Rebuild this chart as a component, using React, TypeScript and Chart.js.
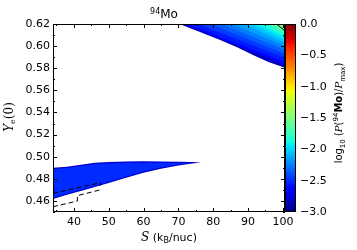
import React, { useEffect, useRef } from 'react';
import { Chart, registerables } from 'chart.js';
Chart.register(...registerables);

// ---- axes ----
const X_MIN = 34, X_MAX = 100.6, Y_MIN = 0.45, Y_MAX = 0.62;
const CB_MIN = -3, CB_MAX = 0;
const xTicks = [40, 50, 60, 70, 80, 90, 100];
const xMinorTicks = [35, 45, 55, 65, 75, 85, 95];
const yTicks = [0.46, 0.48, 0.5, 0.52, 0.54, 0.56, 0.58, 0.6, 0.62];
const yMinorTicks = [0.45, 0.47, 0.49, 0.51, 0.53, 0.55, 0.57, 0.59, 0.61];
const cbTicks = [-3, -2.5, -2, -1.5, -1, -0.5, 0];

// ---- upper-right region: -3 boundary and inner contour levels ----
const boundaryS = [70.3, 76, 82, 87, 91.4, 96, 100.6];
const boundaryYe = [0.62, 0.613, 0.6055, 0.5987, 0.592, 0.5855, 0.5805];
const contourLevels = [-2.7, -2.6, -2.5, -2.4, -2.3, -2.2, -2.1, -2.0, -1.9, -1.8, -1.7, -1.6, -1.5, -1.4, -1.3];
const contourTopS = [71.3, 72.5, 75.6, 79.1, 82.5, 85.7, 88.6, 90.9, 92.9, 94.6, 96.0, 97.2, 98.3, 99.2, 100.1];
const contourRightYe = [0.5829, 0.5856, 0.5893, 0.5929, 0.5965, 0.5997, 0.6028, 0.6055, 0.6082, 0.6105, 0.6128, 0.6146, 0.6164, 0.6177, 0.6191];

// ---- lower-left blob ----
const blobS = [34, 38, 42, 46, 50, 55, 60, 65, 70, 74, 76.5];
const blobTop = [0.49, 0.491, 0.4927, 0.4945, 0.4953, 0.4957, 0.4958, 0.4957, 0.4955, 0.4952, 0.4948];
const blobBottom = [0.4618, 0.4655, 0.469, 0.4725, 0.4762, 0.481, 0.4855, 0.489, 0.492, 0.4938, 0.4948];
const blobInnerS = [34, 38, 42, 46, 50, 55, 60, 65, 70, 73.5];
const blobInnerTop = [0.4888, 0.4898, 0.4915, 0.4933, 0.4941, 0.4945, 0.4946, 0.4945, 0.4943, 0.4941];
const blobInnerBottom = [0.463, 0.4667, 0.4702, 0.4737, 0.4774, 0.4822, 0.4867, 0.4902, 0.493, 0.494];
const blobLevels = [-2.8, -2.5];

// ---- black contour lines ----
const dash1S = [34, 47.6, 47.6];
const dash1Ye = [0.4669, 0.4765, 0.4738];
const dash2S = [34, 39.5, 41, 41, 47.6];
const dash2Ye = [0.4548, 0.4588, 0.46, 0.4648, 0.47];
const cornerS = [98.2, 100.6];
const cornerYe = [0.62, 0.6137];

// ---- jet colormap ----
const JET_R = [[0, 0], [0.35, 0], [0.66, 1], [0.89, 1], [1, 0.5]];
const JET_G = [[0, 0], [0.125, 0], [0.375, 1], [0.64, 1], [0.91, 0], [1, 0]];
const JET_B = [[0, 0.5], [0.11, 1], [0.34, 1], [0.65, 0], [1, 0]];
const JET_STOPS = [0, 0.11, 0.125, 0.34, 0.35, 0.375, 0.64, 0.65, 0.66, 0.89, 0.91, 1];
function interp(p: number[][], t: number) {
  t = Math.max(0, Math.min(1, t));
  for (let i = 1; i < p.length; i++) {
    if (t <= p[i][0]) {
      const [x0, y0] = p[i - 1], [x1, y1] = p[i];
      return y0 + (y1 - y0) * (t - x0) / (x1 - x0);
    }
  }
  return p[p.length - 1][1];
}
function jet(t: number) {
  const c = [JET_R, JET_G, JET_B].map((p) => Math.round(255 * interp(p, t)));
  return `rgb(${c[0]},${c[1]},${c[2]})`;
}
const levelColor = (L: number) => jet((L - CB_MIN) / (CB_MAX - CB_MIN));

const pts = (xs: number[], ys: number[]) => xs.map((x, i) => ({ x, y: ys[i] }));

const SANS = '"DejaVu Sans", sans-serif';
const SERIF = '"DejaVu Serif", serif';

type Run = { t: string; font: string; dy?: number };
function drawRuns(ctx: CanvasRenderingContext2D, runs: Run[], x: number, y: number, rot = 0) {
  ctx.save();
  ctx.translate(x, y);
  if (rot) ctx.rotate(rot);
  ctx.textAlign = 'left';
  ctx.textBaseline = 'alphabetic';
  ctx.fillStyle = '#000';
  let total = 0;
  for (const r of runs) { ctx.font = r.font; total += ctx.measureText(r.t).width; }
  let cx = -total / 2;
  for (const r of runs) {
    ctx.font = r.font;
    ctx.fillText(r.t, cx, r.dy || 0);
    cx += ctx.measureText(r.t).width;
  }
  ctx.restore();
}

function buildDatasets() {
  const ds: any[] = [];
  const base = { showLine: true, pointRadius: 0, borderWidth: 0, tension: 0 };
  // upper-right region (fill to top)
  ds.push({ ...base, data: pts(boundaryS, boundaryYe), fill: 'end', backgroundColor: levelColor(-2.85), order: 40 });
  contourLevels.forEach((L, k) => {
    ds.push({
      ...base,
      data: [{ x: contourTopS[k], y: Y_MAX }, { x: X_MAX, y: contourRightYe[k] }],
      fill: 'end',
      backgroundColor: levelColor(L + 0.05),
      order: 39 - k,
    });
  });
  // blob outer
  let i = ds.length;
  ds.push({ ...base, data: pts(blobS, blobTop), fill: i + 1, backgroundColor: levelColor(blobLevels[0]), order: 6 });
  ds.push({ ...base, data: pts(blobS, blobBottom), fill: false, order: 6 });
  i = ds.length;
  ds.push({ ...base, data: pts(blobInnerS, blobInnerTop), fill: i + 1, backgroundColor: levelColor(blobLevels[1]), order: 5 });
  ds.push({ ...base, data: pts(blobInnerS, blobInnerBottom), fill: false, order: 5 });
  // black lines
  const line = { showLine: true, pointRadius: 0, borderColor: '#000', borderWidth: 1, fill: false, tension: 0, order: 0 };
  ds.push({ ...line, data: pts(dash1S, dash1Ye), borderDash: [5, 3] });
  ds.push({ ...line, data: pts(dash2S, dash2Ye), borderDash: [5, 3] });
  ds.push({ ...line, data: pts(cornerS, cornerYe) });
  return ds;
}

const framePlugin = {
  id: 'frame',
  afterDraw(chart: any) {
    const ctx = chart.ctx as CanvasRenderingContext2D;
    const { left, right, top, bottom } = chart.chartArea;
    const xs = chart.scales.x, ys = chart.scales.y;
    ctx.save();
    ctx.strokeStyle = '#000';
    ctx.lineWidth = 1;
    ctx.strokeRect(Math.round(left) + 0.5, Math.round(top) + 0.5, Math.round(right - left) - 1, Math.round(bottom - top) - 1);
    ctx.beginPath();
    const vt = (vals: number[], len: number) => {
      for (const v of vals) {
        const p = Math.round(xs.getPixelForValue(v)) + 0.5;
        ctx.moveTo(p, bottom); ctx.lineTo(p, bottom - len);
        ctx.moveTo(p, top); ctx.lineTo(p, top + len);
      }
    };
    const ht = (vals: number[], len: number) => {
      for (const v of vals) {
        const p = Math.round(ys.getPixelForValue(v)) + 0.5;
        ctx.moveTo(left, p); ctx.lineTo(left + len, p);
        ctx.moveTo(right, p); ctx.lineTo(right - len, p);
      }
    };
    vt(xTicks, 4); vt(xMinorTicks, 2);
    ht(yTicks, 4); ht(yMinorTicks, 2);
    ctx.stroke();
    ctx.restore();
    // title
    drawRuns(ctx, [
      { t: '94', font: `8px ${SANS}`, dy: -4.5 },
      { t: 'Mo', font: `12px ${SANS}` },
    ], 164, 18);
    // x label
    drawRuns(ctx, [
      { t: 'S', font: `italic 12px ${SERIF}` },
      { t: ' (k', font: `11px ${SANS}` },
      { t: 'B', font: `8px ${SANS}`, dy: 2 },
      { t: '/nuc)', font: `11px ${SANS}` },
    ], 169, 241);
    // y label
    drawRuns(ctx, [
      { t: 'Y', font: `italic 12px ${SERIF}` },
      { t: 'e', font: `8px ${SERIF}`, dy: 2.5 },
      { t: '(0)', font: `12px ${SERIF}` },
    ], 12.5, 117, -Math.PI / 2);
  },
};

const cbPlugin = {
  id: 'cbframe',
  afterDraw(chart: any) {
    const ctx = chart.ctx as CanvasRenderingContext2D;
    const { left, right, top, bottom } = chart.chartArea;
    ctx.save();
    ctx.strokeStyle = '#000';
    ctx.lineWidth = 1;
    ctx.strokeRect(Math.round(left) + 0.5, Math.round(top) + 0.5, Math.round(right - left) - 1, Math.round(bottom - top) - 1);
    ctx.restore();
    drawRuns(ctx, [
      { t: 'log', font: `10px ${SANS}` },
      { t: '10', font: `7px ${SANS}`, dy: 2.5 },
      { t: ' (', font: `10px ${SANS}` },
      { t: 'P', font: `italic 10px ${SERIF}` },
      { t: '(', font: `10px ${SANS}` },
      { t: '94', font: `7px ${SANS}`, dy: -4 },
      { t: 'Mo', font: `bold 10px ${SANS}` },
      { t: ')/', font: `10px ${SANS}` },
      { t: 'P', font: `italic 10px ${SERIF}` },
      { t: 'max', font: `7px ${SANS}`, dy: 2.5 },
      { t: ')', font: `10px ${SANS}` },
    ], 342, 113, -Math.PI / 2);
  },
};

const tickFont = { family: SANS, size: 11 };

export default function App() {
  const mainRef = useRef<HTMLCanvasElement>(null);
  const cbRef = useRef<HTMLCanvasElement>(null);
  useEffect(() => {
    const main = new Chart(mainRef.current as HTMLCanvasElement, {
      type: 'scatter',
      data: { datasets: buildDatasets() },
      options: {
        animation: false,
        responsive: false,
        devicePixelRatio: 1,
        events: [],
        layout: { padding: { left: 0, right: 72, top: 24, bottom: 0 } },
        plugins: { legend: { display: false }, tooltip: { enabled: false }, title: { display: false } },
        scales: {
          x: {
            type: 'linear', min: X_MIN, max: X_MAX,
            afterBuildTicks: (s: any) => { s.ticks = xTicks.map((v) => ({ value: v })); },
            afterFit: (s: any) => { s.height = 38; },
            grid: { display: false, drawTicks: false },
            border: { display: false },
            ticks: { font: tickFont, color: '#000', padding: 4, maxRotation: 0, autoSkip: false, callback: (v: any) => String(v) },
          },
          y: {
            type: 'linear', min: Y_MIN, max: Y_MAX,
            afterBuildTicks: (s: any) => { s.ticks = yTicks.map((v) => ({ value: v })); },
            afterFit: (s: any) => { s.width = 53; },
            grid: { display: false, drawTicks: false },
            border: { display: false },
            ticks: { font: tickFont, color: '#000', padding: 3, autoSkip: false, callback: (v: any) => Number(v).toFixed(2) },
          },
        },
      } as any,
      plugins: [framePlugin],
    });
    const cb = new Chart(cbRef.current as HTMLCanvasElement, {
      type: 'bar',
      data: {
        labels: ['cb'],
        datasets: [{
          data: [[CB_MIN, CB_MAX]] as any,
          borderWidth: 0,
          barPercentage: 1,
          categoryPercentage: 1,
          backgroundColor: (c: any) => {
            const chart = c.chart;
            if (!chart.chartArea) return 'blue';
            const ys = chart.scales.y;
            const g = chart.ctx.createLinearGradient(0, ys.getPixelForValue(CB_MIN), 0, ys.getPixelForValue(CB_MAX));
            for (const s of JET_STOPS) g.addColorStop(s, jet(s));
            return g;
          },
        }],
      },
      options: {
        animation: false,
        responsive: false,
        devicePixelRatio: 1,
        events: [],
        layout: { padding: { left: 285, right: 0, top: 24, bottom: 38 } },
        plugins: { legend: { display: false }, tooltip: { enabled: false } },
        scales: {
          x: { display: false },
          y: {
            position: 'right', min: CB_MIN, max: CB_MAX,
            afterBuildTicks: (s: any) => { s.ticks = cbTicks.map((v) => ({ value: v })); },
            afterFit: (s: any) => { s.width = 61; },
            grid: { display: false, drawTicks: false },
            border: { display: false },
            ticks: {
              font: tickFont, color: '#000', padding: 4, autoSkip: false,
              callback: (v: any) => (Number(v) === 0 ? '0.0' : '\u2212' + Math.abs(Number(v)).toFixed(1)),
            },
          },
        },
      } as any,
      plugins: [cbPlugin],
    });
    return () => { main.destroy(); cb.destroy(); };
  }, []);
  return (
    <div style={{ position: 'fixed', left: 0, top: 0, width: 357, height: 250, background: '#fff' }}>
      <canvas ref={mainRef} width={357} height={250} style={{ position: 'absolute', left: 0, top: 0 }} />
      <canvas ref={cbRef} width={357} height={250} style={{ position: 'absolute', left: 0, top: 0 }} />
    </div>
  );
}
